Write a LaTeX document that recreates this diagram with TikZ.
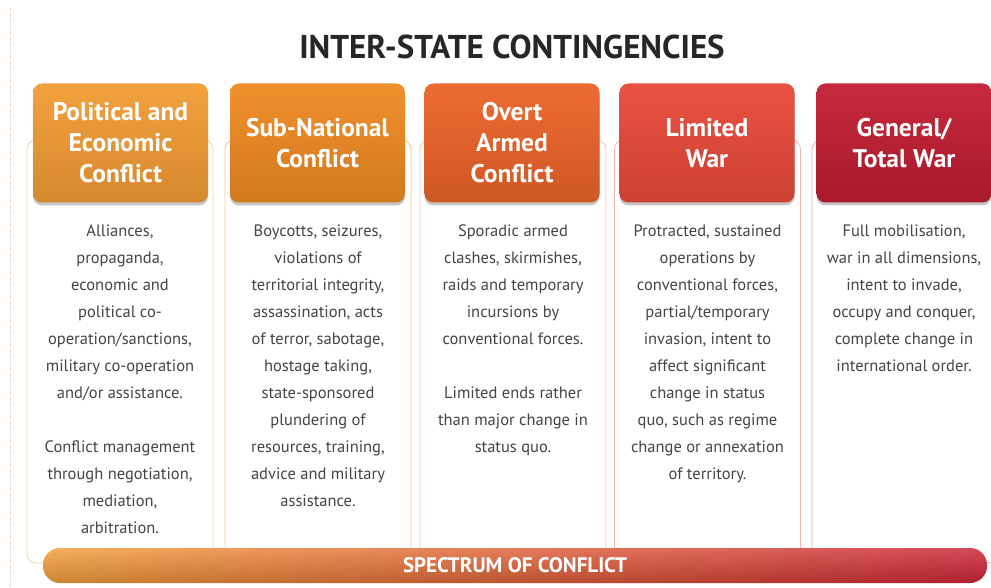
\documentclass[tikz,border=0pt]{standalone}
\usepackage{fontspec}
\setmainfont{PT Sans}
\usetikzlibrary{shadows}

\definecolor{polcol}{HTML}{F29C34}
\definecolor{subcol}{HTML}{EF8A22}
\definecolor{overtcol}{HTML}{EC6328}
\definecolor{limcol}{HTML}{E8493A}
\definecolor{gencol}{HTML}{C41E33}
\definecolor{bodygray}{HTML}{444444}

\begin{document}
\begin{tikzpicture}[x=1pt, y=-1pt]

        	\tikzstyle{head} = [rounded corners=9pt, minimum width=175pt, minimum height=119pt, align=center, text=white, font=\fontsize{25.5}{31}\selectfont\bfseries, drop shadow={shadow xshift=0pt, shadow yshift=-3pt, opacity=0.45}];
        	\tikzstyle{panel} = [draw, line width=0.8pt, rounded corners=9pt, minimum width=186pt, minimum height=423pt];
        	\tikzstyle{body} = [align=center, text=bodygray, font=\fontsize{16.5}{27}\selectfont, anchor=north, inner sep=0pt];

        	\useasboundingbox (0,0) rectangle (991,588);
        	\draw[dotted, color=brown!50] (10,8) -- (10,588);

        	\node[font=\fontsize{33}{36}\selectfont\bfseries, text=black!85] (title) at (512,47) {INTER-STATE CONTINGENCIES};

        	% columns behind the heads
        	\node[panel, draw=polcol!45] (panel1) at (120,351.5) {};
        	\node[panel, draw=subcol!50] (panel2) at (318,351.5) {};
        	\node[panel, draw=overtcol!40] (panel3) at (513,351.5) {};
        	\node[panel, draw=limcol!40] (panel4) at (707.5,351.5) {};
        	\node[panel, draw=gencol!40] (panel5) at (905,351.5) {};

        	\node[head, top color=polcol!95!white, bottom color=polcol!88!black] (head1) at (120.5,143) {Political and\\Economic\\Conflict};
        	\node[head, top color=subcol!95!white, bottom color=subcol!88!black] (head2) at (317.5,143) {Sub-National\\Conflict};
        	\node[head, top color=overtcol!95!white, bottom color=overtcol!88!black] (head3) at (512,143) {Overt\\Armed\\Conflict};
        	\node[head, top color=limcol!95!white, bottom color=limcol!88!black] (head4) at (707,143) {Limited\\War};
        	\node[head, top color=gencol!95!white, bottom color=gencol!85!black] (head5) at (904,143) {General/\\Total War};

        	\node[body] (text1) at (120,225) {Alliances,\\propaganda,\\economic and\\political co-\\operation/sanctions,\\military co-operation\\and/or assistance.\\[27pt]Conflict management\\through negotiation,\\mediation,\\arbitration.};
        	\node[body] (text2) at (318,225) {Boycotts, seizures,\\violations of\\territorial integrity,\\assassination, acts\\of terror, sabotage,\\hostage taking,\\state-sponsored\\plundering of\\resources, training,\\advice and military\\assistance.};
        	\node[body] (text3) at (513,225) {Sporadic armed\\clashes, skirmishes,\\raids and temporary\\incursions by\\conventional forces.\\[27pt]Limited ends rather\\than major change in\\status quo.};
        	\node[body] (text4) at (707.5,225) {Protracted, sustained\\operations by\\conventional forces,\\partial/temporary\\invasion, intent to\\affect significant\\change in status\\quo, such as regime\\change or annexation\\of territory.};
        	\node[body] (text5) at (904,225) {Full mobilisation,\\war in all dimensions,\\intent to invade,\\occupy and conquer,\\complete change in\\international order.};

        	% the spectrum bar
        	\node[rounded corners=17pt, minimum width=944pt, minimum height=35pt, left color=polcol, middle color=overtcol, right color=gencol!90!red, text=white, font=\fontsize{21}{24}\selectfont\bfseries, path picture={\shade[top color=white, bottom color=black!80, opacity=0.2] (path picture bounding box.north west) rectangle (path picture bounding box.south east);}] (spectrum) at (515,565.5) {SPECTRUM OF CONFLICT};

    	\end{tikzpicture}
\end{document}
